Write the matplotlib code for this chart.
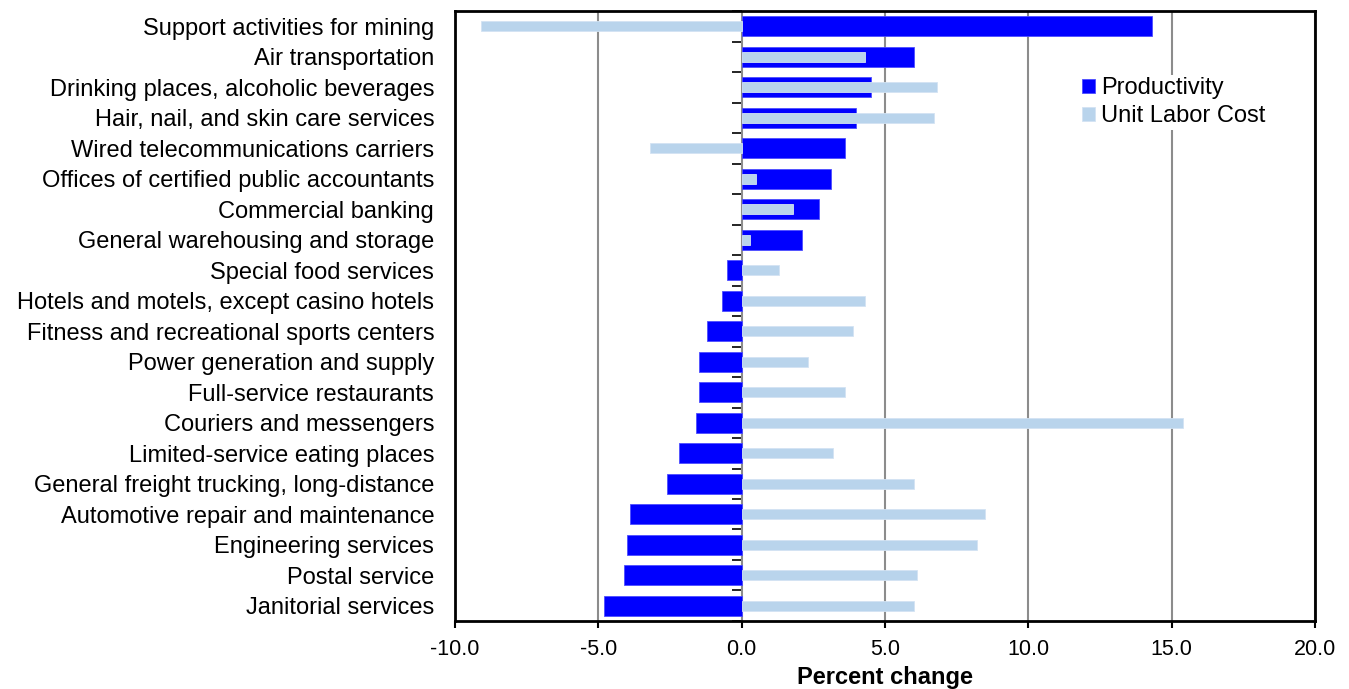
import matplotlib
matplotlib.use('Agg')
import matplotlib.pyplot as plt
import numpy as np

plt.rcParams['font.family'] = ['Liberation Sans', 'DejaVu Sans']

industries = [
    'Support activities for mining',
    'Air transportation',
    'Drinking places, alcoholic beverages',
    'Hair, nail, and skin care services',
    'Wired telecommunications carriers',
    'Offices of certified public accountants',
    'Commercial banking',
    'General warehousing and storage',
    'Special food services',
    'Hotels and motels, except casino hotels',
    'Fitness and recreational sports centers',
    'Power generation and supply',
    'Full-service restaurants',
    'Couriers and messengers',
    'Limited-service eating places',
    'General freight trucking, long-distance',
    'Automotive repair and maintenance',
    'Engineering services',
    'Postal service',
    'Janitorial services',
]
productivity = [14.3, 6.0, 4.5, 4.0, 3.6, 3.1, 2.7, 2.1, -0.5, -0.7,
                -1.2, -1.5, -1.5, -1.6, -2.2, -2.6, -3.9, -4.0, -4.1, -4.8]
unit_labor_cost = [-9.1, 4.3, 6.8, 6.7, -3.2, 0.5, 1.8, 0.3, 1.3, 4.3,
                   3.9, 2.3, 3.6, 15.4, 3.2, 6.0, 8.5, 8.2, 6.1, 6.0]
x_ticks = [-10.0, -5.0, 0.0, 5.0, 10.0, 15.0, 20.0]

fig = plt.figure(figsize=(13.49, 6.89), dpi=100)
ax = fig.add_axes([0.3373, 0.0987, 0.6375, 0.8853])

y = np.arange(len(industries))
ax.barh(y, productivity, height=0.66, color='#0000FF', edgecolor='#4D4DFF',
        linewidth=0.6, label='Productivity', zorder=3)
ax.barh(y, unit_labor_cost, height=0.33, color='#B9D4EC', edgecolor='#D3E3F3',
        linewidth=0.6, label='Unit Labor Cost', zorder=4)

ax.set_xlim(-10, 20)
ax.set_ylim(len(industries) - 0.5, -0.5)
ax.set_xticks(x_ticks)
ax.set_xticklabels([f'{v:.1f}' for v in x_ticks], fontsize=15.5)
ax.set_yticks(y)
ax.set_yticklabels(industries, fontsize=17)
ax.tick_params(axis='y', length=0, pad=15)
ax.tick_params(axis='x', length=5, width=1.5, direction='out', pad=8)
ax.grid(axis='x', color='#8C8C8C', linewidth=1.5, zorder=0)
ax.set_axisbelow(True)
for s in ax.spines.values():
    s.set_linewidth(2)
    s.set_color('black')

ax.set_xlabel('Percent change', fontsize=17, fontweight='bold', labelpad=4)

# category separator ticks along the zero line
zero_axis = ax.secondary_yaxis(1 / 3)
zero_axis.set_yticks(np.arange(len(industries) + 1) - 0.5)
zero_axis.set_yticklabels([])
zero_axis.tick_params(length=7, width=1.2, direction='out', color='black')
zero_axis.spines['left'].set_visible(False)

leg = ax.legend(loc='upper left', bbox_to_anchor=(0.7267, 0.895), fontsize=17,
                handlelength=0.55, handleheight=0.55, handletextpad=0.25,
                labelspacing=0.25, borderpad=0.1, borderaxespad=0,
                frameon=True, fancybox=False)
leg.get_frame().set_edgecolor('none')
leg.get_frame().set_facecolor('white')
leg.get_frame().set_alpha(1)

fig.savefig('out.png', dpi=100)
